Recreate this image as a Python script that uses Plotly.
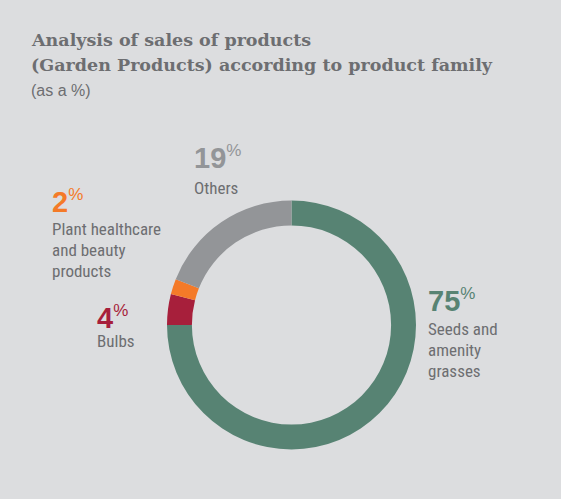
import plotly.graph_objects as go

# Product families, in clockwise order from 12 o'clock
families = ["Seeds and amenity grasses", "Bulbs", "Plant healthcare and beauty products", "Others"]
shares = [75, 4, 2, 19]
colors = ["#578373", "#a71f3b", "#f47a28", "#939598"]

# Label text lines for each family
label_lines = [
    ["Seeds and", "amenity", "grasses"],
    ["Bulbs"],
    ["Plant healthcare", "and beauty", "products"],
    ["Others"],
]

W, H = 561, 499
BG = "#dcdddf"
TEXT_GREY = "#6d6e71"
LABEL_FONT = "Liberation Sans Narrow, Roboto Condensed, Arial Narrow, sans-serif"
TITLE_FONT = "DejaVu Serif, serif"

cx, cy, r = 291.5, 325.0, 124.5

fig = go.Figure(go.Pie(
    labels=families,
    values=shares,
    hole=0.8,
    sort=False,
    direction="clockwise",
    rotation=0,
    marker=dict(colors=colors, line=dict(width=0)),
    textinfo="none",
    textposition="none",
    hoverinfo="label+percent",
    showlegend=False,
    domain=dict(x=[(cx - r) / W, (cx + r) / W], y=[(H - cy - r) / H, (H - cy + r) / H]),
))


def px(x):
    return x / W


def py(y):
    return 1 - y / H


annotations = []

# Title block
annotations.append(dict(
    text="<b>Analysis of sales of products</b>",
    x=px(29), y=py(40), xanchor="left", yanchor="middle",
    font=dict(family=TITLE_FONT, size=17.5, color=TEXT_GREY),
))
annotations.append(dict(
    text="<b>(Garden Products) according to product family</b>",
    x=px(29), y=py(65), xanchor="left", yanchor="middle",
    font=dict(family=TITLE_FONT, size=17.5, color=TEXT_GREY),
))
annotations.append(dict(
    text="(as a %)",
    x=px(29), y=py(91), xanchor="left", yanchor="middle",
    font=dict(family="Liberation Sans, Arial, sans-serif", size=16, color=TEXT_GREY),
))

# Value + description labels: left x, number middle y, offset of first text line
label_pos = [
    (428, 300, 29),    # Seeds
    (97, 317, 24),     # Bulbs
    (52, 201, 28),     # Plant healthcare
    (194, 157.5, 30),  # Others
]
for share, color, lines, (lx, ly, off) in zip(shares, colors, label_lines, label_pos):
    annotations.append(dict(
        text=f"<b>{share}</b><sup><span style='font-size:17px'>%</span></sup>",
        x=px(lx - 2), y=py(ly), xanchor="left", yanchor="middle",
        font=dict(family="Liberation Sans, Arial, sans-serif", size=29, color=color),
    ))
    for i, line in enumerate(lines):
        annotations.append(dict(
            text=line,
            x=px(lx - 2), y=py(ly + off + i * 21), xanchor="left", yanchor="middle",
            font=dict(family=LABEL_FONT, size=17, color=TEXT_GREY),
        ))

for a in annotations:
    a.update(xref="paper", yref="paper", showarrow=False)

fig.update_layout(
    width=W, height=H,
    margin=dict(l=0, r=0, t=0, b=0),
    paper_bgcolor=BG,
    plot_bgcolor=BG,
    annotations=annotations,
)

fig.write_html("out.html")
